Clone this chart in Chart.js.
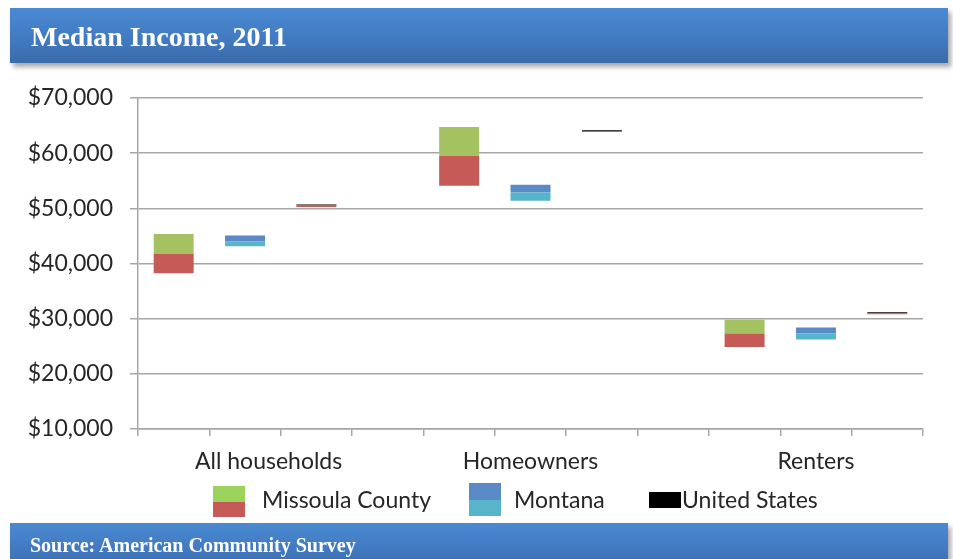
<!DOCTYPE html>
<html>
<head>
<meta charset="utf-8">
<script src="https://cdn.jsdelivr.net/npm/chart.js@4.4.0/dist/chart.umd.min.js"></script>
<style>
  html, body { margin: 0; padding: 0; background: #fff; }
  body { width: 953px; height: 559px; position: relative; overflow: hidden; }
  #chart { position: absolute; left: 0; top: 0; }
  .banner {
    position: absolute; left: 10px; width: 938px;
    background: linear-gradient(#4a8ad2, #4179c0 60%, #3a6aa9);
    color: #fff; font-family: "Liberation Serif", serif; font-weight: bold;
    box-shadow: 3px 4px 5px rgba(0,0,0,0.35);
    box-sizing: border-box;
  }
  #title { top: 8px; height: 55px; font-size: 28px; line-height: 58px; padding-left: 21px; }
  #source { top: 523px; height: 45px; font-size: 20px; line-height: 44px; padding-left: 20px; }
</style>
</head>
<body>
<canvas id="chart" width="953" height="559"></canvas>
<div class="banner" id="title">Median Income, 2011</div>
<div class="banner" id="source">Source: American Community Survey</div>
<script>
// 11 slots: three bars per group plus a gap slot
const slotLabels = ['', '        All households', '', '', '', 'Homeowners', '', '', '', 'Renters', ''];
const yTicks = [10000, 20000, 30000, 40000, 50000, 60000, 70000];

// All households, Homeowners, Renters
const missoulaLow  = [38250, 54090, 24870];
const missoulaEst  = [41750, 59510, 27290];
const missoulaHigh = [45370, 64760, 29820];
const montanaLow   = [43120, 51380, 26210];
const montanaEst   = [44030, 52880, 27290];
const montanaHigh  = [45060, 54270, 28380];
const usLow        = [50250, 63950, 30780];
const usEst        = [50500, 63950, 31000];
const usHigh       = [50700, 64150, 31180];

// put [from, to] pairs into the right slot of each group
function slots(offset, from, to) {
    const out = slotLabels.map(() => null);
    from.forEach((v, i) => { out[i * 4 + offset] = [v, to[i]]; });
    return out;
}

function bar(label, data, color) {
    return {
        label: label,
        data: data,
        backgroundColor: color,
        borderWidth: 0,
        grouped: false,
        barPercentage: 0.56,
        categoryPercentage: 1
    };
}

const legendPlugin = {
    id: 'mocLegend',
    afterDraw(chart) {
        const ctx = chart.ctx;
        ctx.save();
        ctx.fillStyle = '#9bd35a'; ctx.fillRect(213, 486, 32, 16);
        ctx.fillStyle = '#c55a56'; ctx.fillRect(213, 502, 32, 15);
        ctx.fillStyle = '#5a8ac6'; ctx.fillRect(469, 483, 32, 17);
        ctx.fillStyle = '#56b5cb'; ctx.fillRect(469, 500, 32, 16);
        ctx.fillStyle = '#000';    ctx.fillRect(649, 492, 32, 16);
        ctx.fillStyle = '#262626';
        ctx.font = '23px Lato';
        ctx.textBaseline = 'middle';
        ctx.fillText('Missoula County', 262, 501);
        ctx.fillText('Montana', 514, 501);
        ctx.fillText('United States', 682, 501);
        ctx.restore();
    }
};

const gridColor = '#a6a6a6';

const chart = new Chart(document.getElementById('chart').getContext('2d'), {
    type: 'bar',
    data: {
        labels: slotLabels,
        datasets: [
            bar('Missoula County', slots(0, missoulaLow, missoulaEst), '#c55a56'),
            bar('Missoula County high', slots(0, missoulaEst, missoulaHigh), '#a5c263'),
            bar('Montana', slots(1, montanaLow, montanaEst), '#56b5cb'),
            bar('Montana high', slots(1, montanaEst, montanaHigh), '#5a8ac6'),
            bar('United States low', slots(2, usLow, usEst), '#c55a56'),
            bar('United States', slots(2, usEst, usHigh), '#000')
        ]
    },
    options: {
        responsive: false,
        animation: false,
        layout: { padding: { top: 98, left: 0, right: 30, bottom: 80 } },
        plugins: {
            legend: { display: false },
            tooltip: { enabled: false }
        },
        scales: {
            x: {
                afterFit: s => { s.height = 50; },
                grid: { offset: true, drawOnChartArea: false, tickLength: 7, color: gridColor, lineWidth: 1.5 },
                border: { color: gridColor, width: 1.5 },
                ticks: {
                    autoSkip: false, maxRotation: 0, padding: 12,
                    color: '#262626', font: { family: 'Lato', size: 23 }
                }
            },
            y: {
                min: 10000,
                max: 70000,
                afterFit: s => { s.width = 138; },
                afterBuildTicks: s => { s.ticks = yTicks.map(v => ({ value: v })); },
                grid: { tickLength: 8, color: gridColor, lineWidth: 1.5 },
                border: { color: gridColor, width: 1.5 },
                ticks: {
                    padding: 17,
                    color: '#262626',
                    font: { family: 'Lato', size: 23 },
                    callback: v => '$' + v.toLocaleString('en-US')
                }
            }
        }
    },
    plugins: [legendPlugin]
});
</script>
</body>
</html>
